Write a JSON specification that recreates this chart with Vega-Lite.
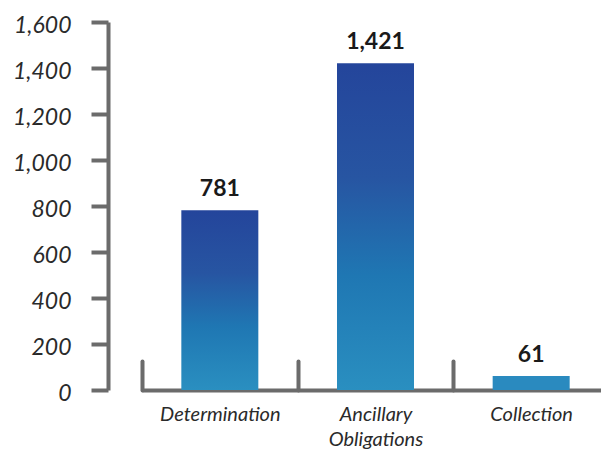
{
  "$schema": "https://vega.github.io/schema/vega-lite/v6.json",
  "width": 467,
  "height": 368,
  "autosize": {"type": "none"},
  "padding": {"left": 142, "top": 22, "right": 0, "bottom": 60},
  "background": "white",
  "config": {
    "view": {"stroke": null},
    "font": "Lato"
  },
  "data": {
    "values": [
      {"category": "Determination", "count": 781},
      {"category": "Ancillary Obligations", "count": 1421},
      {"category": "Collection", "count": 61}
    ]
  },
  "encoding": {
    "x": {
      "field": "category",
      "type": "nominal",
      "sort": null,
      "scale": {"paddingInner": 0, "paddingOuter": 0},
      "axis": {
        "title": null,
        "labelAngle": 0,
        "labelExpr": "split(datum.label, ' ')",
        "labelFont": "Lato",
        "labelFontStyle": "italic",
        "labelFontWeight": "normal",
        "labelFontSize": 20,
        "labelColor": "#2a2a2a",
        "labelLineHeight": 25,
        "labelPadding": 43,
        "labelBaseline": "top",
        "tickBand": "extent",
        "tickSize": -29,
        "tickWidth": 4,
        "tickColor": "#6b6b6b",
        "tickCap": "round",
        "domainWidth": 4,
        "domainColor": "#6b6b6b"
      }
    },
    "y": {
      "field": "count",
      "type": "quantitative",
      "scale": {"domain": [0, 1600], "nice": false},
      "axis": {
        "title": null,
        "offset": 34,
        "values": [0, 200, 400, 600, 800, 1000, 1200, 1400, 1600],
        "grid": false,
        "tickSize": 17,
        "tickWidth": 4,
        "tickColor": "#6b6b6b",
        "domainWidth": 4,
        "domainColor": "#6b6b6b",
        "labelFont": "Lato",
        "labelFontStyle": "italic",
        "labelFontWeight": "normal",
        "labelFontSize": 23,
        "labelColor": "#2a2a2a",
        "labelPadding": 20,
        "labelOffset": 3
      }
    }
  },
  "layer": [
    {
      "mark": {"type": "bar", "width": 77},
      "encoding": {
        "color": {
          "condition": {"test": "datum.count < 200", "value": "#2a8abf"},
          "value": {
            "gradient": "linear",
            "x1": 0, "y1": 0, "x2": 0, "y2": 1,
            "stops": [
              {"offset": 0, "color": "#24459b"},
              {"offset": 0.35, "color": "#2755a2"},
              {"offset": 0.65, "color": "#1f77b3"},
              {"offset": 1, "color": "#2a8fc0"}
            ]
          }
        }
      }
    },
    {
      "mark": {
        "type": "text",
        "font": "Lato",
        "fontWeight": "bold",
        "fontSize": 23,
        "color": "#1a1a1a",
        "baseline": "alphabetic",
        "dy": -14
      },
      "encoding": {
        "text": {"field": "count", "type": "quantitative", "format": ","}
      }
    }
  ]
}
